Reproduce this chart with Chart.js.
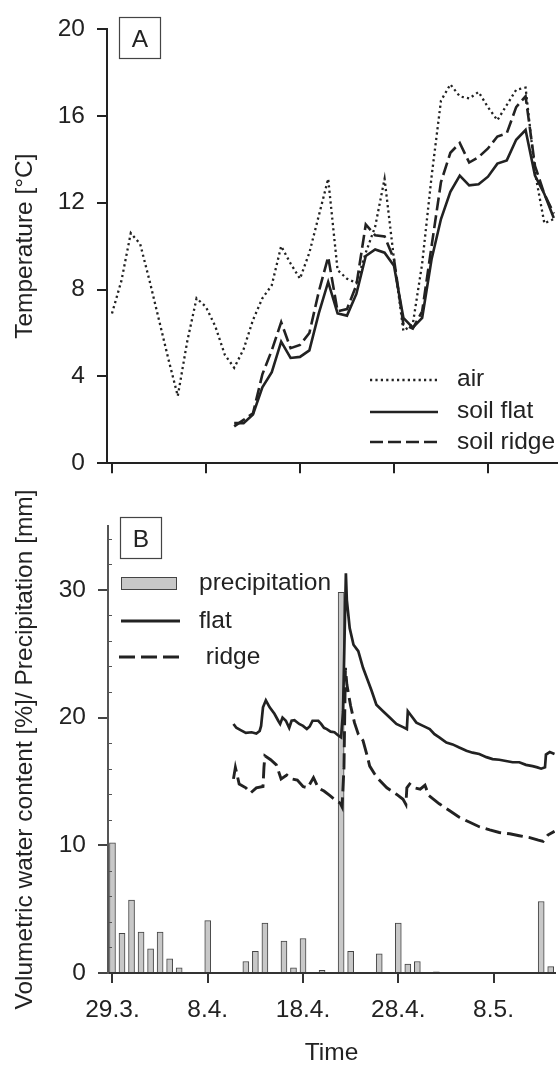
<!DOCTYPE html>
<html>
<head>
<meta charset="utf-8">
<title>Temperature and soil water</title>
<script src="https://cdn.jsdelivr.net/npm/chart.js@4.4.0/dist/chart.umd.min.js"></script>
<style>
  html, body { margin: 0; padding: 0; background: #fff; overflow: hidden; width: 558px; height: 1068px; }
  #wrapA { position: absolute; left: 0; top: 0; width: 558px; height: 490px; }
  #wrapB { position: absolute; left: 0; top: 490px; width: 558px; height: 590px; }
</style>
</head>
<body>
<div id="wrapA"><canvas id="tempChart"></canvas></div>
<div id="wrapB"><canvas id="waterChart"></canvas></div>
<script>
// Days counted from 29.3.
const tickDays = [0, 10, 20, 30, 40];
const tickLabels = ['29.3.', '8.4.', '18.4.', '28.4.', '8.5.'];
const vwcTicks = [0, 10, 20, 30];

// Panel A - daily temperature [°C]
const airDays = [0, 1, 2, 3, 4, 5, 6, 7, 8, 9, 10, 11, 12, 13, 14, 15, 16, 17, 18, 19, 20, 21, 22, 23,
    24, 25, 26, 27, 28, 29, 30, 31, 32, 33, 34, 35, 36, 37, 38, 39, 40, 41, 42, 43, 44, 45, 46, 47];
const airTemp = [6.9, 8.4, 10.6, 10.1, 8.4, 6.6, 4.8, 3.1, 5.6, 7.6, 7.2, 6.3, 5.0, 4.4, 5.25, 6.6,
    7.6, 8.2, 10.0, 9.2, 8.5, 9.7, 11.4, 13.1, 8.9, 8.5, 8.3, 9.7, 10.9, 13.1, 9.4, 6.1, 6.4, 9.2,
    13.2, 16.7, 17.45, 16.9, 16.8, 17.1, 16.4, 15.8, 16.5, 17.2, 17.3, 13.4, 11.05, 11.25];

const soilDays = [13, 14, 15, 16, 17, 18, 19, 20, 21, 22, 23, 24, 25, 26, 27, 28, 29, 30, 31, 32,
    33, 34, 35, 36, 37, 38, 39, 40, 41, 42, 43, 44, 45, 46, 47];
const soilFlatTemp = [1.85, 1.85, 2.25, 3.5, 4.2, 5.6, 4.85, 4.9, 5.2, 6.9, 8.35, 6.9, 6.8, 7.8, 9.55,
    9.85, 9.7, 9.1, 6.7, 6.25, 6.7, 9.4, 11.25, 12.5, 13.25, 12.8, 12.85, 13.2, 13.8, 13.95, 14.9,
    15.35, 13.25, 12.4, 11.3];
const soilRidgeTemp = [1.7, 2.0, 2.3, 4.1, 5.2, 6.5, 5.3, 5.45, 6.0, 7.9, 9.5, 7.0, 7.1, 8.2, 11.0,
    10.5, 10.45, 9.4, 6.4, 6.2, 7.0, 10.0, 12.95, 14.3, 14.75, 13.85, 14.1, 14.5, 15.05, 15.2, 16.4,
    16.9, 13.7, 12.4, 11.5];

// Panel B - precipitation [mm] per day
const precipDays = [0, 1, 2, 3, 4, 5, 6, 7, 10, 14, 15, 16, 18, 19, 20, 22, 24, 25, 28, 30, 31, 32, 34, 45, 46];
const precipMm = [10.2, 3.1, 5.7, 3.2, 1.9, 3.2, 1.1, 0.4, 4.1, 0.9, 1.7, 3.9, 2.5, 0.4, 2.7, 0.2,
    29.8, 1.7, 1.5, 3.9, 0.7, 0.9, 0.1, 5.6, 0.5];

// Panel B - volumetric water content [%]
const flatDays = [12.7, 13.0, 13.5, 14.0, 14.6, 15.1, 15.45, 15.6, 15.8, 16.1, 16.5, 17.0, 17.4, 17.6,
    17.85, 18.2, 18.55, 18.8, 19.1, 19.6, 20.0, 20.4, 20.7, 21.0, 21.6, 21.9, 22.2, 22.5, 22.9, 23.3,
    23.7, 24.0, 24.2, 24.5, 24.6, 24.9, 25.3, 25.8, 26.3, 26.8, 27.2, 27.7, 28.4, 29.1, 29.8, 30.5,
    30.9, 31.0, 31.4, 31.9, 32.6, 33.3, 33.8, 34.3, 35.05, 35.7, 36.4, 37.15, 37.8, 38.5, 39.25,
    39.9, 40.6, 41.3, 42.0, 42.7, 43.4, 44.1, 44.6, 45.0, 45.4, 45.5, 45.9, 46.4];
const flatVwc = [19.5, 19.2, 19.0, 18.8, 18.85, 18.75, 18.95, 19.35, 20.8, 21.35, 20.8, 20.3, 19.75,
    19.5, 20.0, 19.75, 19.2, 19.75, 19.8, 19.5, 19.35, 19.1, 19.3, 19.75, 19.75, 19.5, 19.2, 19.1,
    18.9, 18.85, 18.6, 18.45, 20.5, 31.3, 29.2, 27.0, 25.7, 25.2, 23.9, 22.9, 22.1, 21.0, 20.5, 20.0,
    19.5, 19.25, 19.1, 20.5, 20.1, 19.6, 19.35, 19.1, 18.7, 18.45, 18.05, 17.9, 17.65, 17.4, 17.25,
    17.15, 16.9, 16.75, 16.7, 16.6, 16.5, 16.5, 16.3, 16.2, 16.1, 16.0, 16.1, 17.1, 17.3, 17.15];

const ridgeDays = [12.7, 12.9, 13.3, 14.0, 14.5, 15.1, 15.8, 15.9, 16.0, 16.6, 17.2, 17.7, 18.3, 18.8,
    19.4, 20.0, 20.5, 21.1, 21.6, 22.2, 22.8, 23.3, 23.9, 24.1, 24.3, 24.45, 24.6, 25.0, 25.4, 25.8,
    26.3, 26.7, 27.0, 27.5, 27.9, 28.8, 29.8, 30.5, 30.8, 30.9, 31.2, 31.7, 32.3, 32.8, 33.2, 34.3,
    35.4, 36.4, 37.5, 38.5, 39.6, 40.6, 41.7, 42.7, 43.8, 44.7, 45.2, 45.7, 46.4];
const ridgeVwc = [15.2, 16.1, 14.8, 14.5, 14.1, 14.5, 14.6, 16.1, 17.0, 16.7, 16.3, 15.2, 15.5, 15.2,
    15.1, 14.6, 14.5, 15.3, 14.5, 14.25, 13.9, 13.6, 13.3, 13.0, 16.1, 23.9, 22.6, 20.9, 19.6, 18.7,
    18.2, 17.1, 16.2, 15.6, 15.2, 14.5, 14.0, 13.6, 13.2, 14.5, 14.8, 14.5, 14.4, 14.7, 13.9, 13.25,
    12.7, 12.2, 11.8, 11.45, 11.2, 11.0, 10.9, 10.75, 10.6, 10.4, 10.3, 10.8, 11.1];

const FONT_FAMILY = '"Liberation Sans", Arial, Helvetica, sans-serif';
const FONT_SIZE = 24.5;
const INK = '#222';

Chart.defaults.font.family = FONT_FAMILY;
Chart.defaults.font.size = FONT_SIZE;
Chart.defaults.color = INK;

function zip(xs, ys) {
    return xs.map((x, i) => ({ x: x, y: ys[i] }));
}

function setDateTicks(scale) {
    scale.ticks = tickDays.map(v => ({ value: v }));
}

function dateLabel(value) {
    const i = tickDays.indexOf(value);
    return i >= 0 ? tickLabels[i] : '';
}

// legend sample line
function sampleLine(ctx, x1, x2, y, dash, width) {
    ctx.beginPath();
    ctx.setLineDash(dash);
    ctx.lineWidth = width;
    ctx.strokeStyle = INK;
    ctx.moveTo(x1, y);
    ctx.lineTo(x2, y);
    ctx.stroke();
    ctx.setLineDash([]);
}

function panelBox(ctx, x, y, letter) {
    ctx.lineWidth = 1.2;
    ctx.strokeStyle = '#444';
    ctx.strokeRect(x + 0.5, y + 0.5, 41, 41);
    ctx.fillStyle = INK;
    ctx.textAlign = 'center';
    ctx.textBaseline = 'middle';
    ctx.fillText(letter, x + 21, y + 23);
}

const panelAExtras = {
    id: 'panelAExtras',
    afterDraw(chart) {
        const ctx = chart.ctx;
        ctx.save();
        ctx.font = FONT_SIZE + 'px ' + FONT_FAMILY;
        panelBox(ctx, 119, 17, 'A');
        sampleLine(ctx, 370, 438, 380, [2.2, 3.2], 2.3);
        sampleLine(ctx, 370, 438, 412, [], 2.5);
        sampleLine(ctx, 370, 438, 442, [13, 5], 2.5);
        ctx.fillStyle = INK;
        ctx.textAlign = 'left';
        ctx.textBaseline = 'middle';
        ctx.fillText('air', 457, 379);
        ctx.fillText('soil flat', 457, 411);
        ctx.fillText('soil ridge', 457, 442);
        ctx.restore();
    }
};

const panelBExtras = {
    id: 'panelBExtras',
    afterDraw(chart) {
        const ctx = chart.ctx;
        const y = chart.scales.y;
        ctx.save();
        // minor ticks every 2 units, inside the axis
        ctx.strokeStyle = '#555';
        ctx.lineWidth = 1;
        for (let v = 2; v < y.max; v += 2) {
            if (v % 10 === 0) continue;
            const py = Math.round(y.getPixelForValue(v)) + 0.5;
            ctx.beginPath();
            ctx.moveTo(y.right, py);
            ctx.lineTo(y.right + 4, py);
            ctx.stroke();
        }
        ctx.font = FONT_SIZE + 'px ' + FONT_FAMILY;
        panelBox(ctx, 120, 27, 'B');
        ctx.fillStyle = '#c8c8c8';
        ctx.fillRect(121, 87, 56, 12.5);
        ctx.strokeStyle = '#444';
        ctx.lineWidth = 1;
        ctx.strokeRect(121.5, 87.5, 55, 12);
        sampleLine(ctx, 121, 180, 131, [], 2.8);
        sampleLine(ctx, 119, 181, 167, [16, 6], 2.8);
        ctx.fillStyle = INK;
        ctx.textAlign = 'left';
        ctx.textBaseline = 'middle';
        ctx.fillText('precipitation', 199, 93);
        ctx.fillText('flat', 199, 131);
        ctx.fillText(' ridge', 199, 167);
        ctx.restore();
    }
};

const axisGrid = {
    display: true,
    drawOnChartArea: false,
    drawTicks: true,
    tickLength: 10,
    lineWidth: 2
};

// Panel A: temperature
new Chart(document.getElementById('tempChart'), {
    type: 'line',
    data: {
        datasets: [
            {
                label: 'air',
                data: zip(airDays, airTemp),
                borderColor: INK,
                borderWidth: 2.3,
                borderDash: [2.2, 3.2],
                pointRadius: 0,
                tension: 0
            },
            {
                label: 'soil flat',
                data: zip(soilDays, soilFlatTemp),
                borderColor: INK,
                borderWidth: 2.6,
                pointRadius: 0,
                tension: 0
            },
            {
                label: 'soil ridge',
                data: zip(soilDays, soilRidgeTemp),
                borderColor: INK,
                borderWidth: 2.6,
                borderDash: [13, 5],
                pointRadius: 0,
                tension: 0
            }
        ]
    },
    options: {
        responsive: true,
        maintainAspectRatio: false,
        animation: false,
        events: [],
        layout: { padding: { left: 0, right: 0, top: 29, bottom: 0 } },
        plugins: { legend: { display: false }, tooltip: { enabled: false } },
        scales: {
            x: {
                type: 'linear',
                min: -0.53,
                max: 47.45,
                offset: false,
                afterBuildTicks: setDateTicks,
                afterFit: s => { s.height = 13; },
                ticks: { display: false },
                grid: Object.assign({}, axisGrid, { color: INK }),
                border: { display: true, color: INK, width: 2 }
            },
            y: {
                min: 0,
                max: 20,
                afterFit: s => { s.width = 107; },
                ticks: { stepSize: 4, padding: 12, color: INK },
                grid: Object.assign({}, axisGrid, { color: INK }),
                border: { display: true, color: INK, width: 2 },
                title: {
                    display: true,
                    text: 'Temperature [°C]',
                    color: INK,
                    padding: { top: 11, bottom: 0 }
                }
            }
        }
    },
    plugins: [panelAExtras]
});

// Panel B: water content and precipitation
new Chart(document.getElementById('waterChart'), {
    type: 'bar',
    data: {
        datasets: [
            {
                type: 'line',
                label: 'flat',
                data: zip(flatDays, flatVwc),
                borderColor: INK,
                borderWidth: 2.7,
                pointRadius: 0,
                tension: 0,
                order: 1
            },
            {
                type: 'line',
                label: 'ridge',
                data: zip(ridgeDays, ridgeVwc),
                borderColor: INK,
                borderWidth: 2.9,
                borderDash: [16, 6],
                pointRadius: 0,
                tension: 0,
                order: 1
            },
            {
                type: 'bar',
                label: 'precipitation',
                data: zip(precipDays, precipMm),
                backgroundColor: '#c8c8c8',
                borderColor: '#444',
                borderWidth: 1,
                barThickness: 6,
                order: 2
            }
        ]
    },
    options: {
        responsive: true,
        maintainAspectRatio: false,
        animation: false,
        events: [],
        layout: { padding: { left: 0, right: 3, top: 36, bottom: 0 } },
        plugins: { legend: { display: false }, tooltip: { enabled: false } },
        scales: {
            x: {
                type: 'linear',
                min: -0.47,
                max: 46.45,
                offset: false,
                afterBuildTicks: setDateTicks,
                afterFit: s => { s.height = 107; },
                ticks: { padding: 13, color: INK, maxRotation: 0, callback: dateLabel },
                grid: Object.assign({}, axisGrid, { color: '#333', offset: false }),
                border: { display: true, color: '#333', width: 2 },
                title: {
                    display: true,
                    text: 'Time',
                    color: INK,
                    padding: { top: 0, bottom: 12 }
                }
            },
            y: {
                min: 0,
                max: 35,
                afterFit: s => { s.width = 108; },
                afterBuildTicks: s => { s.ticks = vwcTicks.map(v => ({ value: v })); },
                ticks: { padding: 12, color: INK },
                grid: Object.assign({}, axisGrid, { color: '#444' }),
                border: { display: true, color: '#555', width: 2 },
                title: {
                    display: true,
                    text: 'Volumetric water content [%]/ Precipitation [mm]',
                    color: INK,
                    padding: { top: 11, bottom: 0 }
                }
            }
        }
    },
    plugins: [panelBExtras]
});
</script>
</body>
</html>
